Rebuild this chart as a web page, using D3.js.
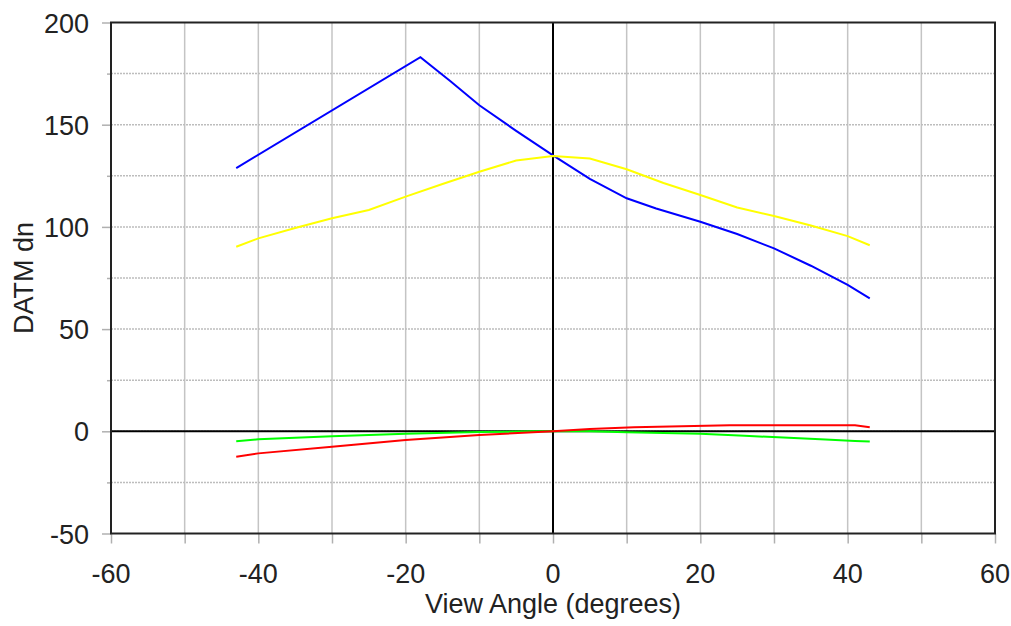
<!DOCTYPE html>
<html>
<head>
<meta charset="utf-8">
<script src="https://cdn.jsdelivr.net/npm/d3@7"></script>
<style>
  body { margin: 0; background: #fff; }
  svg text { font-family: "Liberation Sans", Arial, sans-serif; fill: #222; }
</style>
</head>
<body>
<div id="chart"></div>
<script>
// view angles (degrees) and DATM dn values
const blueAngles = [-43, -18, -14, -10, -5, 0, 5, 10, 14, 20, 25, 30, 35, 40, 43];
const blueValues = [128.8, 183, 171.5, 159.5, 147, 135, 123.5, 114, 109, 102.5, 96.5, 89.5, 81, 71.6, 65];

const yellowAngles = [-43, -40, -35, -30, -25, -20, -15, -10, -5, 0, 5, 10, 15, 20, 25, 30, 35, 40, 43];
const yellowValues = [90.3, 94.4, 99.5, 104.2, 108.3, 114.8, 121, 127, 132.5, 134.7, 133.5, 128.2, 121.5, 115.6, 109.5, 105.3, 100.7, 95.5, 91];

const greenAngles = [-43, -40, -30, -20, -10, -3, 0, 5, 10, 20, 26, 32, 37, 41, 43];
const greenValues = [-4.9, -3.9, -2.4, -1.2, -0.4, 0, 0, 0, -0.5, -1.2, -2.2, -3.2, -4, -4.7, -5];

const redAngles = [-43, -40, -30, -20, -10, 0, 5, 11, 24, 41, 43];
const redValues = [-12.4, -10.8, -7.5, -4.3, -1.8, 0, 1.1, 2, 2.9, 3, 2];

const xTicks = [-60, -40, -20, 0, 20, 40, 60];
const yTicks = [-50, 0, 50, 100, 150, 200];

const series = [
  { name: 'blue', angles: blueAngles, values: blueValues, color: '#0000ff' },
  { name: 'yellow', angles: yellowAngles, values: yellowValues, color: '#ffff00' },
  { name: 'green', angles: greenAngles, values: greenValues, color: '#00ff00' },
  { name: 'red', angles: redAngles, values: redValues, color: '#ff0000' }
];

const width = 1011, height = 626;
const margin = { left: 111, right: 16, top: 22.5, bottom: 92.5 };

const svg = d3.select('#chart').append('svg')
  .attr('width', width)
  .attr('height', height);

const x = d3.scaleLinear().domain([-60, 60]).range([margin.left, width - margin.right]);
const y = d3.scaleLinear().domain([-50, 200]).range([height - margin.bottom, margin.top]);

// grid
const g = svg.append('g');
g.append('g')
  .selectAll('line')
  .data(d3.range(-50, 61, 10))
  .enter().append('line')
  .attr('x1', d => x(d)).attr('x2', d => x(d))
  .attr('y1', y(200)).attr('y2', y(-50))
  .attr('stroke', '#c4c4c4')
  .attr('stroke-width', 1.5);
g.append('g')
  .selectAll('line')
  .data(d3.range(-25, 200, 25))
  .enter().append('line')
  .attr('x1', x(-60)).attr('x2', x(60))
  .attr('y1', d => y(d)).attr('y2', d => y(d))
  .attr('stroke', '#bdbdbd')
  .attr('stroke-width', 1.5)
  .attr('stroke-dasharray', '2,1');

// axes (gray ticks, labels)
const xAxis = g.append('g')
  .attr('transform', 'translate(0,' + y(-50) + ')')
  .call(d3.axisBottom(x).tickValues(d3.range(-60, 61, 10)).tickSize(10).tickFormat(''));
xAxis.select('.domain').remove();
xAxis.selectAll('line').attr('stroke', '#b0b0b0').attr('stroke-width', 1.5);

const yAxis = g.append('g')
  .attr('transform', 'translate(' + x(-60) + ',0)')
  .call(d3.axisLeft(y).tickValues(yTicks).tickSize(9).tickFormat(''));
yAxis.select('.domain').remove();
yAxis.selectAll('line').attr('stroke', '#b0b0b0').attr('stroke-width', 1.5);
const yMinor = g.append('g')
  .attr('transform', 'translate(' + x(-60) + ',0)')
  .call(d3.axisLeft(y).tickValues(d3.range(-25, 200, 50)).tickSize(4).tickFormat(''));
yMinor.select('.domain').remove();
yMinor.selectAll('line').attr('stroke', '#b0b0b0').attr('stroke-width', 1.5);

g.append('g')
  .selectAll('text')
  .data(xTicks)
  .enter().append('text')
  .attr('x', d => x(d))
  .attr('y', 583)
  .attr('text-anchor', 'middle')
  .style('font-size', '27px')
  .text(d => d);

g.append('g')
  .selectAll('text')
  .data(yTicks)
  .enter().append('text')
  .attr('x', 89)
  .attr('y', d => y(d) + 10)
  .attr('text-anchor', 'end')
  .style('font-size', '27px')
  .text(d => d);

svg.append('text')
  .attr('x', x(0))
  .attr('y', 613)
  .attr('text-anchor', 'middle')
  .style('font-size', '27px')
  .text('View Angle (degrees)');

svg.append('text')
  .attr('text-anchor', 'middle')
  .attr('transform', 'translate(33,' + ((y(200) + y(-50)) / 2) + ') rotate(-90)')
  .style('font-size', '27px')
  .text('DATM dn');

// zero lines
g.append('line')
  .attr('x1', x(0)).attr('x2', x(0))
  .attr('y1', y(200)).attr('y2', y(-50))
  .attr('stroke', '#000').attr('stroke-width', 2);
g.append('line')
  .attr('x1', x(-60)).attr('x2', x(60))
  .attr('y1', y(0)).attr('y2', y(0))
  .attr('stroke', '#000').attr('stroke-width', 2);

// frame
g.append('rect')
  .attr('x', x(-60)).attr('y', y(200))
  .attr('width', x(60) - x(-60))
  .attr('height', y(-50) - y(200))
  .attr('fill', 'none')
  .attr('stroke', '#222')
  .attr('stroke-width', 2);

// series
const line = d3.line()
  .x(d => x(d[0]))
  .y(d => y(d[1]));

g.append('g')
  .selectAll('path')
  .data(series)
  .enter().append('path')
  .attr('class', d => 'series series-' + d.name)
  .attr('d', d => line(d.angles.map((a, i) => [a, d.values[i]])))
  .attr('fill', 'none')
  .attr('stroke', d => d.color)
  .attr('stroke-width', 2);
</script>
</body>
</html>
